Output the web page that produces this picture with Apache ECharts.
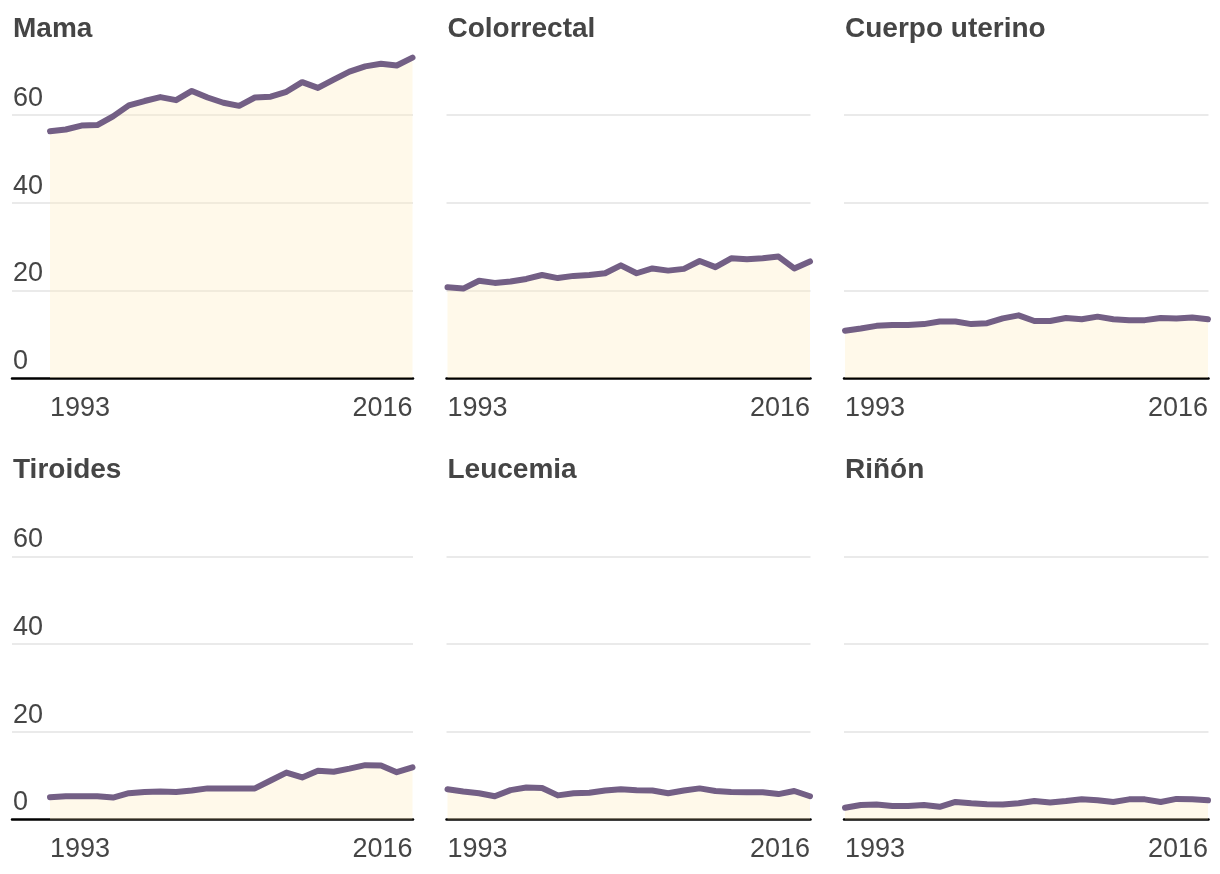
<!DOCTYPE html>
<html>
<head>
<meta charset="utf-8">
<script src="https://cdn.jsdelivr.net/npm/echarts@6/dist/echarts.min.js"></script>
<style>
html,body{margin:0;padding:0;background:#fff;}
#chart{width:1220px;height:874px;}
</style>
</head>
<body>
<div id="chart"></div>
<script>
const years = [1993,1994,1995,1996,1997,1998,1999,2000,2001,2002,2003,2004,2005,2006,2007,2008,2009,2010,2011,2012,2013,2014,2015,2016];
const titles = ['Mama','Colorrectal','Cuerpo uterino','Tiroides','Leucemia','Riñón'];
const mama = [56.3,56.7,57.6,57.7,59.7,62.2,63.2,64.1,63.4,65.5,64.0,62.8,62.1,64.0,64.2,65.3,67.5,66.2,68.1,69.9,71.1,71.7,71.3,73.1];
const colorrectal = [20.7,20.4,22.2,21.7,22.0,22.6,23.5,22.8,23.3,23.5,23.9,25.7,23.9,25.0,24.5,24.9,26.7,25.3,27.3,27.1,27.3,27.7,25.0,26.6];
const cuerpoUterino = [10.8,11.3,11.9,12.1,12.1,12.3,12.9,12.9,12.3,12.5,13.6,14.3,13.0,13.0,13.7,13.4,14.0,13.4,13.2,13.2,13.7,13.6,13.8,13.4];
const tiroides = [5.1,5.3,5.3,5.3,5.0,6.0,6.3,6.4,6.3,6.6,7.1,7.1,7.1,7.1,8.9,10.7,9.6,11.1,10.9,11.6,12.4,12.3,10.8,11.9];
const leucemia = [6.9,6.4,6.0,5.3,6.7,7.3,7.2,5.5,6.0,6.1,6.6,6.9,6.7,6.6,6.0,6.6,7.1,6.5,6.3,6.2,6.2,5.8,6.5,5.3];
const rinon = [2.7,3.3,3.4,3.1,3.1,3.3,2.9,4.0,3.7,3.5,3.4,3.7,4.2,3.9,4.2,4.6,4.4,4.0,4.6,4.6,4.0,4.7,4.6,4.4];
const seriesData = [mama, colorrectal, cuerpoUterino, tiroides, leucemia, rinon];
const yTicks = [0,20,40,60];

const FONT = 'Liberation Sans, Arial, sans-serif';
const TEXT = '#454545';
const LINE = '#735f85';
const Y_MAX = 75;

// layout
const colData = [[50,412.5],[447.5,810],[845,1208]];
const colGridLeft = [13,447.5,845];
const rowBottom = [378,819.5];
const rowTop = [49.3,490.8];
const W = 1220, H = 874;

const grid = [], xAxis = [], yAxis = [], series = [], title = [];
for (let i = 0; i < 6; i++) {
  const c = i % 3, r = Math.floor(i / 3);
  const top = rowTop[r], bottom = H - rowBottom[r];
  // background grid (gridlines, labels, baseline)
  grid.push({left: colGridLeft[c] - 1, right: W - colData[c][1] - 0.5, top: top, bottom: bottom});
  // data grid
  grid.push({left: colData[c][0], right: W - colData[c][1], top: top, bottom: bottom});
  const gb = 2 * i, gd = 2 * i + 1;
  xAxis.push({
    gridIndex: gb, type: 'value', min: 0, max: 1,
    axisLine: {show: true, onZero: false, lineStyle: {color: '#000', width: 2.5}},
    axisTick: {show: false}, axisLabel: {show: false}, splitLine: {show: false}
  });
  xAxis.push({
    gridIndex: gd, type: 'category', data: years, boundaryGap: false,
    axisLine: {show: false}, axisTick: {show: false}, splitLine: {show: false},
    axisLabel: {
      show: true, margin: 17, fontSize: 27, color: TEXT, fontFamily: FONT,
      interval: (idx) => idx === 0 || idx === years.length - 1,
      alignMinLabel: 'left', alignMaxLabel: 'right'
    }
  });
  yAxis.push({
    gridIndex: gb, type: 'value', min: 0, max: Y_MAX, interval: 20,
    axisLine: {show: false}, axisTick: {show: false},
    splitLine: {show: true, showMaxLine: false, showMinLine: false, lineStyle: {color: '#e3e3e3', width: 1.5}},
    axisLabel: {
      show: c === 0, showMaxLabel: false, inside: false, margin: -1,
      align: 'left', verticalAlign: 'bottom', padding: [0,0,3,0],
      fontSize: 27, color: TEXT, fontFamily: FONT,
      formatter: (v) => yTicks.indexOf(v) >= 0 ? String(v) : ''
    }
  });
  yAxis.push({
    gridIndex: gd, type: 'value', min: 0, max: Y_MAX, interval: 20,
    show: false, splitLine: {show: false}
  });
  series.push({
    type: 'line', xAxisIndex: gd, yAxisIndex: gd, data: seriesData[i],
    symbol: 'none', smooth: false,
    lineStyle: {color: LINE, width: 6, cap: 'round', join: 'round'},
    areaStyle: {color: 'rgba(255,238,195,0.5)'},
    z: 3
  });
  title.push({
    text: titles[i], left: colGridLeft[c], top: (r === 0 ? 15 : 456.5),
    textStyle: {fontSize: 28, fontWeight: 'bold', color: TEXT, fontFamily: FONT},
    padding: 0
  });
}

const chart = echarts.init(document.getElementById('chart'), null, {renderer: 'canvas'});
chart.setOption({
  backgroundColor: '#fff',
  animation: false,
  title: title, grid: grid, xAxis: xAxis, yAxis: yAxis, series: series
});
</script>
</body>
</html>
